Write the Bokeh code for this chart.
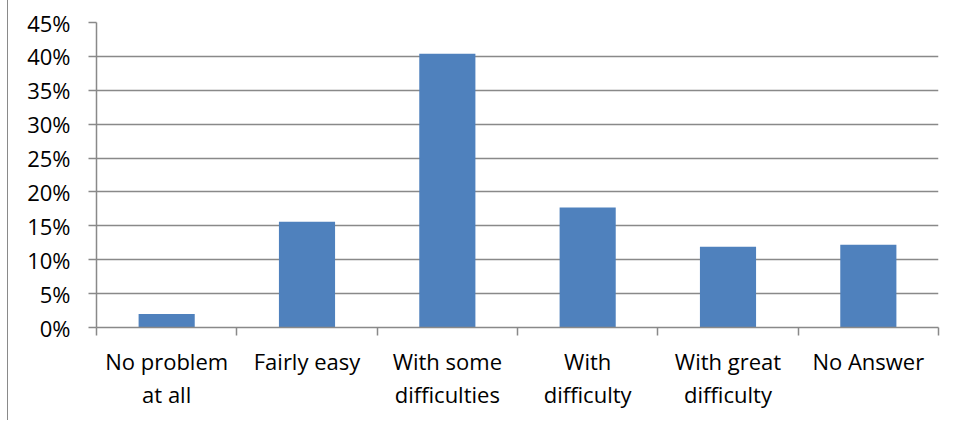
from bokeh.plotting import figure
from bokeh.models import FixedTicker, NumeralTickFormatter, ColumnDataSource, Range1d
from bokeh.embed import file_html
from bokeh.resources import INLINE

categories = ["No problem\nat all", "Fairly easy", "With some\ndifficulties",
              "With\ndifficulty", "With great\ndifficulty", "No Answer"]
values = [0.020, 0.156, 0.404, 0.177, 0.119, 0.122]
y_ticks = [0.0, 0.05, 0.10, 0.15, 0.20, 0.25, 0.30, 0.35, 0.40, 0.45]

xs = [i + 0.5 for i in range(len(categories))]
src = ColumnDataSource(dict(x=xs, top=values))

FONT = "Open Sans"
FSIZE = "22px"
GRID = "#898989"

p = figure(width=946, height=420, output_backend="svg", toolbar_location=None,
           x_range=Range1d(0, len(categories)), y_range=Range1d(0, 0.45),
           min_border_left=88, min_border_right=16, min_border_top=22, min_border_bottom=93)
p.styles = {"margin-left": "7px", "border-left": "1px solid #8a8a8a"}
p.outline_line_color = None
p.background_fill_color = "white"
p.border_fill_color = "white"

p.vbar(x="x", top="top", width=0.4, bottom=0, source=src, color="#4F81BD", line_color=None)

# y axis
p.yaxis.ticker = FixedTicker(ticks=y_ticks)
p.yaxis.formatter = NumeralTickFormatter(format="0%")
p.yaxis.axis_line_color = GRID
p.yaxis.axis_line_width = 1.5
p.yaxis.major_tick_line_color = GRID
p.yaxis.major_tick_line_width = 1.5
p.yaxis.major_tick_out = 8
p.yaxis.major_tick_in = 0
p.yaxis.minor_tick_line_color = None
p.yaxis.major_label_standoff = 18
p.yaxis.major_label_text_font = FONT
p.yaxis.major_label_text_font_size = FSIZE
p.yaxis.major_label_text_color = "black"

# x axis
p.xaxis.ticker = FixedTicker(ticks=xs, minor_ticks=list(range(len(categories) + 1)))
p.xaxis.major_label_overrides = {x: c for x, c in zip(xs, categories)}
p.xaxis.axis_line_color = GRID
p.xaxis.axis_line_width = 1.5
p.xaxis.major_tick_line_color = None
p.xaxis.minor_tick_line_color = GRID
p.xaxis.minor_tick_line_width = 1.5
p.xaxis.minor_tick_out = 8
p.xaxis.minor_tick_in = 0
p.xaxis.major_label_standoff = 10
p.xaxis.major_label_text_font = FONT
p.xaxis.major_label_text_font_size = FSIZE
p.xaxis.major_label_text_color = "black"
p.xaxis.major_label_text_line_height = 1.12

p.xgrid.grid_line_color = None
p.ygrid.grid_line_color = GRID
p.ygrid.grid_line_width = 1.5

open("out.html", "w").write(file_html(p, INLINE))
